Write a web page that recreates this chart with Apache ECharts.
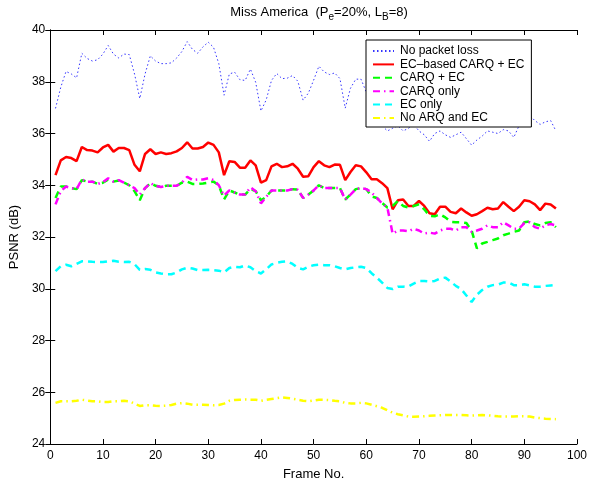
<!DOCTYPE html>
<html>
<head>
<meta charset="utf-8">
<script src="https://cdn.jsdelivr.net/npm/echarts@6/dist/echarts.min.js"></script>
<style>html,body{margin:0;padding:0;background:#fff;}#c{width:590px;height:486px;}</style>
</head>
<body>
<div id="c"></div>
<script>
var frames = [1,2,3,4,5,6,7,8,9,10,11,12,13,14,15,16,17,18,19,20,21,22,23,24,25,26,27,28,29,30,31,32,33,34,35,36,37,38,39,40,41,42,43,44,45,46,47,48,49,50,51,52,53,54,55,56,57,58,59,60,61,62,63,64,65,66,67,68,69,70,71,72,73,74,75,76,77,78,79,80,81,82,83,84,85,86,87,88,89,90,91,92,93,94,95,96];
var seriesNames = ['No packet loss','EC\u2013based CARQ + EC','CARQ + EC','CARQ only','EC only','No ARQ and EC'];
var noLoss = [36.97,37.79,38.4,38.3,38.15,39.1,38.9,38.8,38.85,39.07,39.4,39.07,38.92,39.07,39.05,38.3,37.35,38.3,39.0,38.8,38.7,38.7,38.73,38.92,39.17,39.55,39.25,39.1,39.35,39.53,39.33,38.7,37.48,38.3,38.37,38.08,38.05,38.49,37.98,36.87,37.3,38.05,38.32,38.12,38.14,38.24,38.02,37.29,37.56,38.06,38.6,38.38,38.28,38.34,38.12,36.98,37.75,38.1,38.1,37.6,37.0,36.6,36.3,36.1,36.2,36.3,36.1,36.2,36.35,36.1,35.95,35.7,36.0,36.1,35.95,35.85,35.95,36.05,35.8,35.55,35.75,35.9,36.1,36.05,36.0,36.15,36.1,35.85,36.3,36.8,36.7,36.5,36.35,36.45,36.5,36.1];
var ecCarq = [34.39,34.96,35.09,35.05,34.93,35.48,35.36,35.34,35.27,35.46,35.56,35.3,35.44,35.44,35.36,34.79,34.54,35.21,35.39,35.21,35.27,35.21,35.24,35.31,35.44,35.66,35.42,35.42,35.48,35.65,35.56,35.27,34.39,34.93,34.9,34.68,34.68,34.96,34.77,34.1,34.2,34.73,34.83,34.7,34.73,34.83,34.64,34.33,34.35,34.7,34.93,34.77,34.7,34.8,34.79,34.2,34.51,34.77,34.73,34.5,34.23,34.23,34.08,33.89,33.07,33.42,33.45,33.2,33.2,33.39,33.2,32.92,32.88,33.17,33.17,32.97,32.92,33.1,32.95,32.82,32.88,33.0,33.13,33.07,33.1,33.35,33.17,33.0,33.17,33.42,33.38,33.26,33.04,33.29,33.26,33.1];
var carqEc = [33.51,33.95,33.95,33.89,33.85,34.2,34.14,34.14,34.05,34.1,34.22,34.14,34.18,34.1,34.0,33.77,33.42,33.89,34.08,33.98,33.93,33.98,33.98,33.98,34.1,34.14,34.05,34.05,34.07,34.1,34.14,34.0,33.45,33.8,33.72,33.64,33.64,33.85,33.77,33.42,33.55,33.8,33.8,33.8,33.8,33.85,33.83,33.51,33.64,33.8,34.0,33.89,33.89,33.89,33.89,33.45,33.64,33.85,33.89,33.85,33.57,33.51,33.32,33.14,33.2,33.39,33.2,33.14,33.2,33.26,33.07,32.82,32.8,32.88,32.76,32.59,32.57,32.57,32.54,32.25,31.56,31.75,31.81,31.88,31.94,32.07,32.13,32.2,32.25,32.57,32.6,32.5,32.45,32.54,32.57,32.38];
var carqOnly = [33.26,33.77,33.95,33.89,33.85,34.22,34.14,34.14,34.05,34.12,34.27,34.14,34.2,34.1,34.0,33.89,33.64,33.89,34.08,33.98,33.93,33.98,33.98,33.98,34.1,34.33,34.2,34.22,34.22,34.27,34.2,34.0,33.6,33.8,33.72,33.64,33.64,33.92,33.77,33.3,33.55,33.8,33.8,33.8,33.8,33.85,33.83,33.51,33.64,33.8,34.0,33.89,33.89,33.89,33.89,33.45,33.64,33.85,33.89,33.85,33.72,33.51,33.3,33.14,32.13,32.25,32.25,32.22,32.32,32.25,32.13,32.17,32.13,32.25,32.32,32.32,32.25,32.38,32.38,32.2,32.25,32.32,32.45,32.38,32.38,32.57,32.45,32.32,32.32,32.54,32.57,32.38,32.32,32.45,32.5,32.45];
var ecOnly = [30.68,30.87,30.93,30.87,30.96,31.06,31.06,31.04,31.03,31.03,31.06,31.08,31.04,31.03,31.04,30.95,30.73,30.76,30.73,30.63,30.59,30.56,30.56,30.63,30.75,30.81,30.78,30.72,30.72,30.73,30.72,30.7,30.63,30.8,30.85,30.83,30.9,30.83,30.68,30.59,30.75,30.94,31.0,31.04,31.06,30.96,30.81,30.75,30.85,30.91,30.93,30.91,30.91,30.87,30.8,30.75,30.8,30.83,30.85,30.8,30.6,30.43,30.24,30.03,29.99,30.08,30.08,30.09,30.2,30.3,30.3,30.28,30.3,30.4,30.43,30.28,30.11,29.99,29.74,29.49,29.77,29.95,30.08,30.14,30.16,30.24,30.24,30.14,30.14,30.17,30.13,30.08,30.08,30.11,30.13,30.15];
var noArqEc = [25.59,25.65,25.65,25.65,25.67,25.71,25.68,25.65,25.65,25.62,25.62,25.65,25.65,25.67,25.65,25.56,25.47,25.5,25.5,25.48,25.47,25.48,25.51,25.56,25.58,25.56,25.52,25.52,25.52,25.51,25.5,25.51,25.56,25.67,25.7,25.71,25.72,25.71,25.71,25.67,25.71,25.74,25.77,25.8,25.78,25.75,25.71,25.67,25.65,25.68,25.71,25.71,25.7,25.67,25.65,25.59,25.57,25.57,25.59,25.57,25.52,25.46,25.4,25.3,25.21,25.15,25.11,25.06,25.05,25.06,25.07,25.09,25.1,25.11,25.12,25.12,25.12,25.12,25.11,25.1,25.11,25.12,25.11,25.09,25.07,25.06,25.06,25.06,25.07,25.07,25.06,25.02,25.0,24.98,24.97,24.96];
var xTicks = [0,10,20,30,40,50,60,70,80,90,100];
var yTicks = [24,26,28,30,32,34,36,38,40];

function pairs(vals){ return frames.map(function(f,i){ return [f, vals[i]]; }); }

var FONT = '"Liberation Sans", Arial, Helvetica, sans-serif';
var chart = echarts.init(document.getElementById('c'), null, {renderer:'canvas'});
var styles = [
  {color:'#3535ff', width:1, type:[1.5,2.5]},
  {color:'#ff0000', width:2.5, type:'solid'},
  {color:'#00ff00', width:2.5, type:[7,5]},
  {color:'#ff00ff', width:2.5, type:[7,4,1.5,4]},
  {color:'#00ffff', width:2.5, type:[7,5]},
  {color:'#ffff00', width:2.5, type:[7,4,1.5,4]}
];
var dataSets = [noLoss, ecCarq, carqEc, carqOnly, ecOnly, noArqEc];
var series = dataSets.map(function(d, i){
  return {
    name: seriesNames[i], type:'line', xAxisIndex:0, yAxisIndex:0,
    data: pairs(d), symbol:'none', showSymbol:false, animation:false,
    lineStyle:{color:styles[i].color, width:styles[i].width, type:styles[i].type},
    itemStyle:{color:styles[i].color}, z: 2
  };
});

var axisLineStyle = {lineStyle:{color:'#000', width:1}};
chart.setOption({
  animation:false,
  backgroundColor:'#fff',
  title:{
    text:'{a|Miss America  (P}{s|e}{a|=20%, L}{s|B}{a|=8)}',
    left:314, top:1, textAlign:'center',
    textStyle:{fontWeight:'normal', rich:{
      a:{fontFamily:FONT, fontSize:13, fontWeight:'normal', color:'#000', verticalAlign:'top'},
      s:{fontFamily:FONT, fontSize:10, fontWeight:'normal', color:'#000', verticalAlign:'top', padding:[6,0,0,0]}
    }}
  },
  legend:{
    orient:'vertical', left:366, top:40,
    itemWidth:21, itemHeight:10, itemGap:1.4,
    padding:[5,7,3,6],
    borderColor:'#000', borderWidth:1, backgroundColor:'#fff',
    itemStyle:{opacity:0},
    textStyle:{fontFamily:FONT, fontSize:12, color:'#000', padding:[0,0,0,1]},
    data: seriesNames,
    z: 10
  },
  grid:{left:46, top:30, width:536, height:424, containLabel:false, show:false},
  xAxis:[
    {type:'value', min:xTicks[0], max:xTicks[xTicks.length-1], interval:10, position:'bottom',
     axisLine:axisLineStyle, axisTick:{inside:true, length:5, lineStyle:{color:'#000'}},
     axisLabel:{fontFamily:FONT, fontSize:12, color:'#000', margin:6},
     splitLine:{show:false},
     name:'Frame No.', nameLocation:'middle', nameGap:24,
     nameTextStyle:{fontFamily:FONT, fontSize:13, color:'#000'}},
    {type:'value', min:xTicks[0], max:xTicks[xTicks.length-1], interval:10, position:'top',
     axisLine:axisLineStyle, axisTick:{inside:true, length:5, lineStyle:{color:'#000'}},
     axisLabel:{show:false}, splitLine:{show:false}}
  ],
  yAxis:[
    {type:'value', min:yTicks[0], max:yTicks[yTicks.length-1], interval:2, position:'left',
     axisLine:{show:true, lineStyle:{color:'#000', width:1}}, axisTick:{show:true, inside:true, length:5, lineStyle:{color:'#000'}},
     axisLabel:{fontFamily:FONT, fontSize:12, color:'#000', margin:5},
     splitLine:{show:false},
     name:'PSNR (dB)', nameLocation:'middle', nameGap:28, nameRotate:90,
     nameTextStyle:{fontFamily:FONT, fontSize:13, color:'#000'}},
    {type:'value', min:yTicks[0], max:yTicks[yTicks.length-1], interval:2, position:'right',
     axisLine:{show:true, lineStyle:{color:'#000', width:1}}, axisTick:{show:true, inside:true, length:5, lineStyle:{color:'#000'}},
     axisLabel:{show:false}, splitLine:{show:false}}
  ],
  series: series
});
</script>
</body>
</html>
